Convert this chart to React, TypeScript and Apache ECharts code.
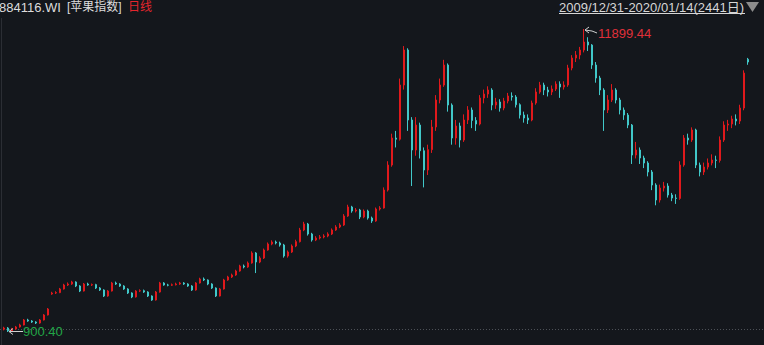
import React, { useEffect, useRef } from "react";
import * as echarts from "echarts";

const BG = "#14171c";
const UP = "#e0191c";
const DOWN = "#41c8c9";

const title = "884116.WI";
const indexName = "[苹果指数]";
const period = "日线";
const rangeText = "2009/12/31-2020/01/14(2441日)";

// each candle aggregates ~13 trading days of the reference
const opens = [
  1000, 1045, 936, 1009, 1082, 1154, 1336, 1299, 1263, 1227,
  1336, 1517, 2280, 2316, 2330, 2461, 2606, 2642, 2715, 2570,
  2388, 2642, 2606, 2620, 2497, 2425, 2207, 2388, 2679, 2642,
  2570, 2461, 2316, 2171, 2388, 2400, 2352, 2207, 2062, 2352,
  2679, 2606, 2600, 2615, 2642, 2679, 2642, 2570, 2425, 2679,
  2824, 2788, 2642, 2497, 2207, 2461, 2788, 2897, 2969, 3114,
  3296, 3260, 3405, 3768, 3441, 3586, 3877, 4094, 4167, 4131,
  4058, 3659, 3804, 4022, 4180, 4603, 4820, 4457, 4240, 4312,
  4349, 4385, 4457, 4603, 4712, 4784, 5111, 5438, 5292, 5329,
  5075, 5292, 5038, 4929, 5365, 5401, 6055, 6962, 7942, 7900,
  9866, 11137, 8596, 7507, 8414, 7480, 6781, 7520, 8342, 9322,
  9866, 10592, 9140, 7942, 8378, 7870, 8596, 8959, 8580, 8450,
  9394, 9539, 9685, 9140, 9249, 9031, 9285, 9467, 9430, 9150,
  8777, 8668, 8596, 9213, 9612, 9866, 9685, 9612, 9721, 9902,
  9793, 9866, 10483, 10846, 10955, 11137, 11427, 11318, 10592, 10120,
  9685, 8959, 9322, 9685, 9322, 8959, 8777, 8414, 7325, 7507,
  7216, 7035, 6708, 6236, 5692, 6127, 6200, 5873, 5764, 5750,
  6962, 7942, 7870, 8233, 6962, 6708, 6890, 7035, 7144, 7130,
  7870, 8414, 8450, 8632, 8559, 9031, 10800,
];

const closes = [
  1045, 936, 1009, 1082, 1154, 1336, 1299, 1263, 1227, 1336,
  1517, 1735, 2316, 2330, 2461, 2606, 2642, 2715, 2570, 2388,
  2642, 2606, 2620, 2497, 2425, 2207, 2388, 2679, 2642, 2570,
  2461, 2316, 2171, 2388, 2400, 2352, 2207, 2062, 2352, 2679,
  2606, 2600, 2615, 2642, 2679, 2642, 2570, 2425, 2679, 2824,
  2788, 2642, 2497, 2207, 2461, 2788, 2897, 2969, 3114, 3296,
  3260, 3405, 3768, 3441, 3586, 3877, 4094, 4167, 4131, 4058,
  3659, 3804, 4022, 4180, 4603, 4820, 4457, 4240, 4312, 4349,
  4385, 4457, 4603, 4712, 4784, 5111, 5438, 5292, 5329, 5075,
  5292, 5038, 4929, 5365, 5401, 6055, 6962, 7942, 7900, 9866,
  11137, 8596, 7507, 8414, 7480, 6781, 7520, 8342, 9322, 9866,
  10592, 9140, 7942, 8378, 7870, 8596, 8959, 8580, 8450, 9394,
  9539, 9685, 9140, 9249, 9031, 9285, 9467, 9430, 9150, 8777,
  8668, 8596, 9213, 9612, 9866, 9685, 9612, 9721, 9902, 9793,
  9866, 10483, 10846, 10955, 11137, 11427, 11318, 10592, 10120, 9685,
  8959, 9322, 9685, 9322, 8959, 8777, 8414, 7325, 7507, 7216,
  7035, 6708, 6236, 5692, 6127, 6200, 5873, 5764, 5750, 6962,
  7942, 7870, 8233, 6962, 6708, 6890, 7035, 7144, 7130, 7870,
  8414, 8450, 8632, 8559, 9031, 10300, 10701,
];

const highs = [
  1090, 1080, 1050, 1120, 1200, 1370, 1380, 1330, 1290, 1370,
  1550, 1770, 2360, 2380, 2500, 2650, 2700, 2760, 2740, 2600,
  2680, 2690, 2660, 2650, 2530, 2450, 2420, 2720, 2730, 2670,
  2600, 2490, 2340, 2420, 2450, 2440, 2380, 2230, 2390, 2720,
  2710, 2650, 2660, 2690, 2720, 2710, 2670, 2600, 2710, 2870,
  2880, 2810, 2670, 2520, 2500, 2830, 2940, 3020, 3160, 3340,
  3350, 3460, 3830, 3800, 3650, 3930, 4150, 4230, 4220, 4180,
  4100, 3860, 4080, 4250, 4680, 4900, 4860, 4500, 4380, 4420,
  4450, 4520, 4660, 4780, 4850, 5180, 5520, 5480, 5400, 5370,
  5350, 5340, 5090, 5420, 5470, 6150, 7100, 8100, 8200, 10100,
  11280, 11200, 8700, 8700, 8500, 7600, 7700, 8600, 9500, 10100,
  10780, 10650, 9200, 8600, 8500, 8800, 9100, 9050, 8700, 9500,
  9700, 9820, 9750, 9400, 9350, 9400, 9580, 9600, 9500, 9200,
  8900, 8800, 9300, 9750, 9980, 9950, 9800, 9850, 10000, 10000,
  10000, 10600, 10950, 11100, 11250, 11899.44, 11600, 11350, 10700, 10200,
  9750, 9500, 9900, 9750, 9400, 9050, 8850, 8450, 7800, 7600,
  7300, 7100, 6780, 6300, 6250, 6350, 6300, 5950, 5900, 7100,
  8050, 8100, 8330, 8280, 7050, 7050, 7200, 7350, 7300, 8000,
  8550, 8600, 8750, 8800, 9150, 10400, 10850,
];

const lows = [
  960, 900.4, 920, 990, 1060, 1140, 1270, 1230, 1190, 1200,
  1320, 1500, 2250, 2280, 2310, 2440, 2570, 2610, 2530, 2350,
  2370, 2580, 2570, 2460, 2390, 2170, 2180, 2370, 2610, 2540,
  2430, 2280, 2130, 2150, 2350, 2320, 2170, 2030, 2040, 2330,
  2580, 2560, 2570, 2590, 2610, 2610, 2540, 2390, 2400, 2660,
  2750, 2600, 2460, 2170, 2190, 2440, 2760, 2860, 2940, 3090,
  3210, 3230, 3380, 3040, 3400, 3550, 3850, 4050, 4080, 4000,
  3600, 3600, 3770, 3980, 4150, 4560, 4400, 4180, 4200, 4260,
  4300, 4340, 4420, 4570, 4670, 4750, 5080, 5230, 5240, 5000,
  5030, 4980, 4860, 4900, 5310, 5380, 6000, 6900, 7600, 7850,
  9700, 8200, 6200, 7300, 7200, 6150, 6600, 7400, 8200, 9200,
  9800, 8900, 7700, 7700, 7600, 7800, 8450, 8300, 8200, 8400,
  9200, 9400, 8950, 9000, 8900, 8950, 9200, 9300, 9050, 8650,
  8500, 8450, 8550, 9150, 9550, 9500, 9450, 9500, 9650, 9400,
  9700, 9800, 10400, 10700, 10800, 11050, 11100, 10450, 9950, 9500,
  8200, 8850, 9250, 9200, 8800, 8600, 8300, 7000, 7200, 7000,
  6850, 6550, 6050, 5500, 5600, 6000, 5780, 5650, 5550, 5700,
  6900, 7700, 7800, 6850, 6550, 6600, 6800, 6950, 6850, 7050,
  7800, 8200, 8300, 8400, 8450, 8950, 10600,
];

const FONT = '"Liberation Sans", Arial, "Noto Sans CJK SC", sans-serif';

export default function App() {
  const ref = useRef<HTMLDivElement>(null);
  useEffect(() => {
    document.body.style.margin = "0";
    document.body.style.background = BG;
    const chart = echarts.init(ref.current as HTMLDivElement, null, { renderer: "svg" });
    const data = closes.map((c, i) => [opens[i], c, lows[i], highs[i]]);
    const yMin = Math.min(...lows);
    const yMax = Math.max(...highs);
    chart.setOption({
      animation: false,
      backgroundColor: BG,
      grid: { left: 2, right: 14, top: 29, bottom: 13 },
      xAxis: {
        type: "category",
        data: closes.map((_, i) => String(i)),
        boundaryGap: true,
        show: false,
      },
      yAxis: { type: "value", min: yMin, max: yMax, show: false, splitLine: { show: false } },
      series: [
        {
          type: "candlestick",
          data,
          barWidth: 2,
          itemStyle: {
            color: UP,
            color0: DOWN,
            borderColor: UP,
            borderColor0: DOWN,
            borderWidth: 1,
          },
        },
      ],
    });

    const hiIdx = highs.indexOf(yMax);
    const loIdx = lows.indexOf(yMin);
    const pHi = chart.convertToPixel({ gridIndex: 0 }, [hiIdx, yMax]) as number[];
    const pLo = chart.convertToPixel({ gridIndex: 0 }, [loIdx, yMin]) as number[];
    const arrowColor = "#cfcfcf";

    chart.setOption({
      graphic: [
        { type: "line", shape: { x1: 1.5, y1: 18, x2: 1.5, y2: 345 }, style: { stroke: "#2b2e34", lineWidth: 1 }, z: 1 },
        { type: "line", shape: { x1: 0, y1: 329.5, x2: 764, y2: 329.5 }, style: { stroke: "#4d5157", lineWidth: 1, lineDash: [1, 2] }, z: 1 },
        { type: "text", x: -1, y: 7, style: { text: title, fill: "#dcdcdc", font: "13px " + FONT, textVerticalAlign: "middle" } },
        { type: "text", x: 67, y: 7, style: { text: indexName, fill: "#dcdcdc", font: "12px " + FONT, textVerticalAlign: "middle" } },
        { type: "text", x: 128, y: 7, style: { text: period, fill: "#e5262d", font: "12px " + FONT, textVerticalAlign: "middle" } },
        { type: "text", x: 559, y: 7, style: { text: rangeText, fill: "#d6d6d6", font: "13px " + FONT, textVerticalAlign: "middle" } },
        { type: "line", shape: { x1: 559, y1: 13.5, x2: 745, y2: 13.5 }, style: { stroke: "#d6d6d6", lineWidth: 1 } },
        { type: "polygon", shape: { points: [[746, 2], [759, 2], [752.5, 12]] }, style: { fill: "#8c8c8c" } },
        // max marker
        { type: "polyline", shape: { points: [[pHi[0] + 1, pHi[1] + 1], [pHi[0] + 8, pHi[1] + 2], [pHi[0] + 13, pHi[1] + 4]] }, style: { stroke: arrowColor, lineWidth: 1, fill: null }, z: 10 },
        { type: "polyline", shape: { points: [[pHi[0] + 5, pHi[1] - 2], [pHi[0] + 1, pHi[1] + 1], [pHi[0] + 5, pHi[1] + 4]] }, style: { stroke: arrowColor, lineWidth: 1, fill: null }, z: 10 },
        { type: "text", x: pHi[0] + 14, y: pHi[1] + 4, style: { text: yMax.toFixed(2), fill: "#e0303a", font: "13px " + FONT, textVerticalAlign: "middle" }, z: 10 },
        // min marker
        { type: "line", shape: { x1: pLo[0] + 1, y1: pLo[1] - 0.5, x2: pLo[0] + 15, y2: pLo[1] - 0.5 }, style: { stroke: arrowColor, lineWidth: 1 }, z: 10 },
        { type: "polyline", shape: { points: [[pLo[0] + 5, pLo[1] - 3.5], [pLo[0] + 1, pLo[1] - 0.5], [pLo[0] + 5, pLo[1] + 2.5]] }, style: { stroke: arrowColor, lineWidth: 1, fill: null }, z: 10 },
        { type: "text", x: pLo[0] + 15, y: pLo[1] - 1, style: { text: yMin.toFixed(2), fill: "#22a546", font: "13px " + FONT, textVerticalAlign: "middle" }, z: 10 },
      ],
    });
    return () => chart.dispose();
  }, []);
  return (
    <div
      ref={ref}
      style={{ position: "absolute", left: 0, top: 0, width: 764, height: 345, background: BG }}
    />
  );
}
